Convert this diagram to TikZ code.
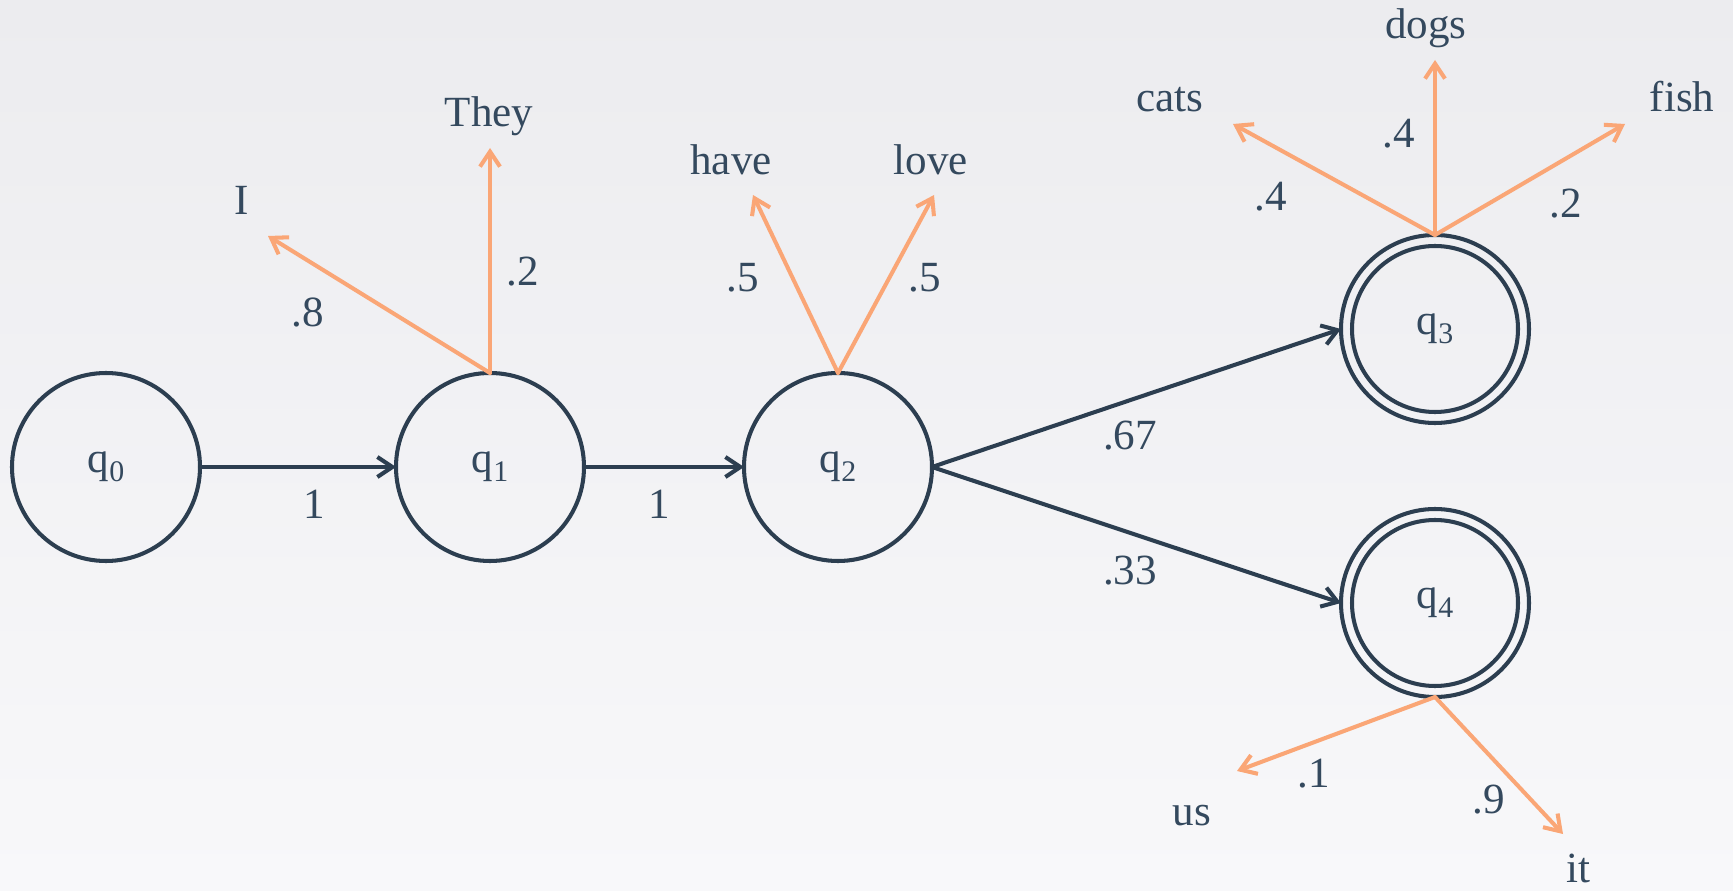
\documentclass[tikz,border=0pt]{standalone}
\usepackage{fontspec}
\setmainfont{Liberation Serif}
\usepackage{xcolor}
\usepackage{tikz}
\usetikzlibrary{arrows.meta, positioning, calc}

\definecolor{navy}{RGB}{44,62,80}
\definecolor{inkc}{RGB}{52,73,94}
\definecolor{peach}{RGB}{250,166,118}
\definecolor{bgtop}{RGB}{236,236,239}
\definecolor{bgbot}{RGB}{248,248,250}

% state name with a lowered index
\newcommand{\qname}[1]{q\raisebox{-0.45ex}{\fontsize{17}{17}\selectfont #1}}

\begin{document}
\begin{tikzpicture}[line width=2.3pt, line cap=round, line join=round,
        font=\fontsize{24.5}{29}\selectfont, text=inkc,
        state/.style={circle, draw=navy, minimum size=3.76cm, inner sep=0pt, outer sep=0pt},
        final/.style={state, path picture={\draw[navy] (path picture bounding box.center) circle (1.66cm);}},
        trans/.style={draw=navy, -{Straight Barb[length=0.30cm, width=0.40cm]}},
        emit/.style={draw=peach, -{Straight Barb[length=0.30cm, width=0.40cm]}},
        word/.style={anchor=base},
        prob/.style={anchor=base}]

        % Background
        \useasboundingbox (0,0) rectangle (34.66,17.80);
        \fill[top color=bgtop, bottom color=bgbot] (0,0) rectangle (34.66,17.80);

        % States
        \node[state] (q0) at (2.12, 8.46) {\qname{0}};
        \node[state] (q1) at (9.80, 8.46) {\qname{1}};
        \node[state] (q2) at (16.76, 8.46) {\qname{2}};
        \node[final] (q3) at (28.70, 11.22) {\qname{3}};
        \node[final] (q4) at (28.70, 5.74) {\qname{4}};

        % Transitions
        \draw[trans] (q0.east) -- (q1.west);
        \draw[trans] (q1.east) -- (q2.west);
        \draw[trans] (q2.east) -- (q3.west);
        \draw[trans] (q2.east) -- (q4.west);
        \node[prob] at (6.28, 7.44) {1};
        \node[prob] at (13.18, 7.44) {1};
        \node[prob] at (22.60, 8.80) {.67};
        \node[prob] at (22.60, 6.10) {.33};

        % Emissions of q1
        \coordinate (I-end) at (5.36, 13.08);
        \coordinate (They-end) at (9.80, 14.84);
        \draw[emit] (q1.north) -- (I-end);
        \draw[emit] (q1.north) -- (They-end);
        \node[word] (I) at (4.84, 13.50) {I};
        \node[word] (They) at (9.78, 15.26) {They};
        \node[prob] at (6.16, 11.26) {.8};
        \node[prob] at (10.46, 12.08) {.2};

        % Emissions of q2
        \coordinate (have-end) at (15.06, 13.90);
        \coordinate (love-end) at (18.68, 13.90);
        \draw[emit] (q2.north) -- (have-end);
        \draw[emit] (q2.north) -- (love-end);
        \node[word] (have) at (14.62, 14.30) {have};
        \node[word] (love) at (18.62, 14.30) {love};
        \node[prob] at (14.86, 11.96) {.5};
        \node[prob] at (18.50, 11.96) {.5};

        % Emissions of q3
        \coordinate (cats-end) at (24.66, 15.32);
        \coordinate (dogs-end) at (28.70, 16.60);
        \coordinate (fish-end) at (32.50, 15.32);
        \draw[emit] (q3.north) -- (cats-end);
        \draw[emit] (q3.north) -- (dogs-end);
        \draw[emit] (q3.north) -- (fish-end);
        \node[word] (cats) at (23.40, 15.56) {cats};
        \node[word] (dogs) at (28.52, 17.02) {dogs};
        \node[word] (fish) at (33.64, 15.56) {fish};
        \node[prob] at (25.42, 13.58) {.4};
        \node[prob] at (27.98, 14.84) {.4};
        \node[prob] at (31.32, 13.44) {.2};

        % Emissions of q4
        \coordinate (us-end) at (24.74, 2.38);
        \coordinate (it-end) at (31.26, 1.12);
        \draw[emit] (q4.south) -- (us-end);
        \draw[emit] (q4.south) -- (it-end);
        \node[word] (us) at (23.84, 1.30) {us};
        \node[word] (it) at (31.56, 0.16) {it};
        \node[prob] at (26.28, 2.06) {.1};
        \node[prob] at (29.78, 1.54) {.9};

    \end{tikzpicture}
\end{document}
